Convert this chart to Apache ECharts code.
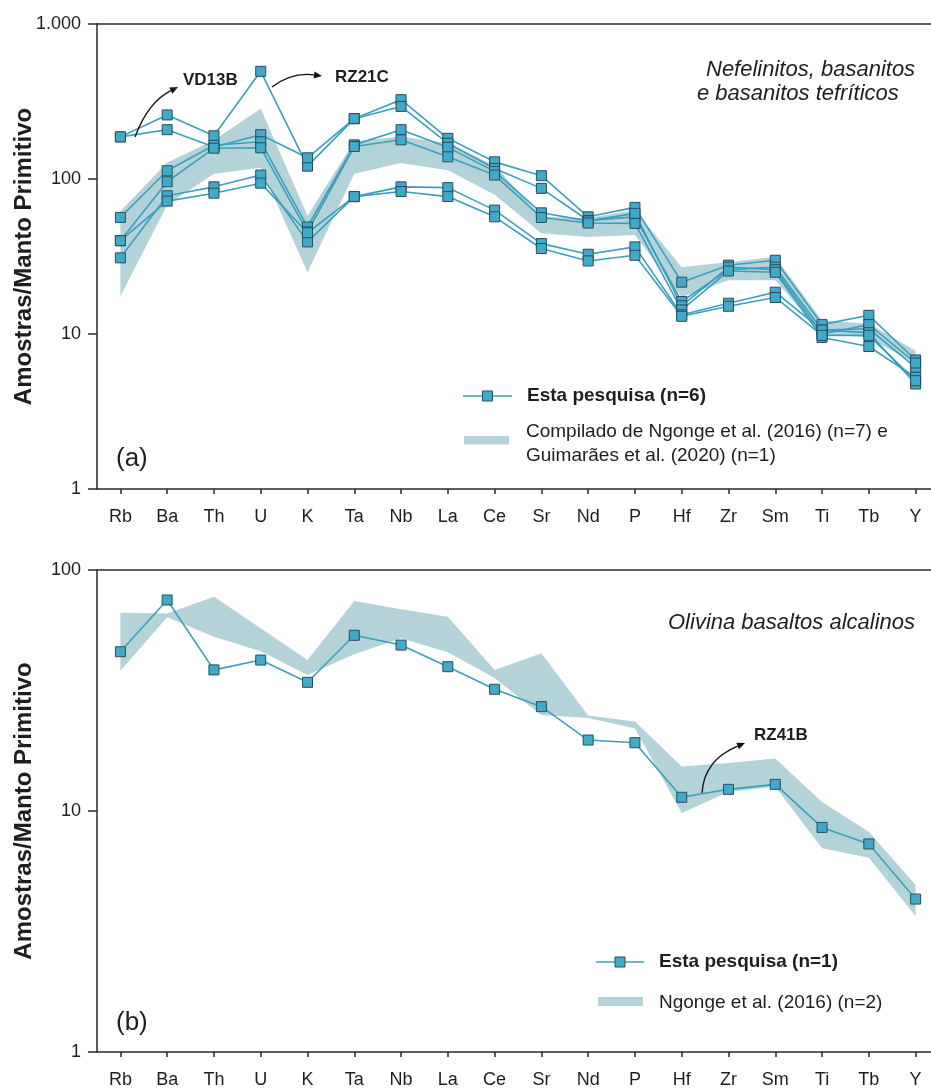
<!DOCTYPE html>
<html>
<head>
<meta charset="utf-8">
<script src="https://cdn.jsdelivr.net/npm/echarts@6/dist/echarts.min.js"></script>
<style>
  html, body { margin: 0; padding: 0; background: #ffffff; }
  #chart { width: 931px; height: 1088px; }
</style>
</head>
<body>
<div id="chart"></div>
<script>
// Elements on the x axis (primitive-mantle normalised spider diagram)
const elements = ['Rb','Ba','Th','U','K','Ta','Nb','La','Ce','Sr','Nd','P','Hf','Zr','Sm','Ti','Tb','Y'];

// (a) Nefelinitos, basanitos e basanitos tefríticos — samples of this study
const rz21c = [187, 259, 190, 495, 121, 245, 325, 183, 129, 105, 57, 65.6, 21.6, 27.8, 29.9, 11.5, 13.2, 6.8];
const vd13b = [187, 208, 161, 193, 137, 245, 294, 170, 117, 87, 54, 57, 16.2, 26, 27, 10.6, 10.8, 6.1];
const amostraA3 = [56.5, 113, 165, 174, 49, 166, 208, 160, 112, 60.5, 53.7, 60, 15.2, 27, 26, 10, 11.5, 6.5];
const amostraA4 = [40, 96, 158, 159, 45.6, 162, 179, 139, 106, 56.5, 52, 51.7, 14.3, 25.5, 25, 9.5, 8.3, 5.25];
const amostraA5 = [31, 78, 89, 106, 39.3, 77, 89, 88, 63, 38.3, 32.7, 36.5, 13.3, 15.8, 18.6, 10.6, 10.2, 4.76];
const amostraA6 = [40, 72, 81, 94, 45, 77, 83, 77, 57, 35.6, 29.6, 32.2, 13, 15.1, 17.2, 9.8, 9.8, 5.0];

// (a) compiled field: Ngonge et al. (2016) + Guimarães et al. (2020)
const campoA_max = [62, 128, 178, 285, 58, 175, 188, 170, 122, 57, 56, 63, 27, 29.1, 31.4, 12.2, 11.7, 7.8];
const campoA_min = [17.5, 68, 108, 118, 25, 108, 127, 114, 79, 44.7, 42.3, 43.5, 17.3, 22.2, 22.2, 10, 9.5, 6.4];

// (b) Olivina basaltos alcalinos — sample RZ41B
const rz41b = [45.8, 75.1, 38.5, 42.3, 34.2, 53.6, 48.8, 39.7, 32, 27.1, 19.7, 19.2, 11.4, 12.3, 12.9, 8.55, 7.3, 4.31];

// (b) field: Ngonge et al. (2016)
const campoB_max = [66.5, 66, 77.5, 57.3, 42.3, 74.3, 68.7, 64, 38.5, 45.1, 24.9, 23.5, 15.3, 15.8, 16.5, 10.9, 8.2, 4.93];
const campoB_min = [38.2, 63.6, 52.9, 46, 36.7, 44.7, 52.1, 45.6, 35.6, 25, 24.3, 22, 9.8, 12.0, 12.6, 7.0, 6.4, 3.67];

// y-axis tick labels
const tickLabelsA = { 1: '1', 10: '10', 100: '100', 1000: '1.000' };
const tickLabelsB = { 1: '1', 10: '10', 100: '100' };

const LINE = '#3a9fbc';
const MARK = '#41a9c9';
const MARK_BORDER = '#2c4c57';
const BAND = '#b4d3d8';
const AXIS = '#2a2a2a';
const TEXT = '#1e1e1e';
const FONT = '"Liberation Sans", Arial, sans-serif';

const chart = echarts.init(document.getElementById('chart'), null, { renderer: 'canvas' });

function catAxis(gridIndex) {
  return {
    type: 'category', gridIndex, data: elements, boundaryGap: true, position: 'bottom',
    axisLine: { show: true, lineStyle: { color: AXIS, width: 1.5 } },
    axisTick: { show: true, alignWithLabel: true, length: 5, lineStyle: { color: AXIS, width: 1.5 } },
    axisLabel: { color: TEXT, fontSize: 18, fontFamily: FONT, margin: 19, interval: 0 },
    splitLine: { show: false }
  };
}
function topAxis(gridIndex) {
  return {
    type: 'category', gridIndex, data: elements, position: 'top',
    axisLine: { show: true, lineStyle: { color: AXIS, width: 1.5 } },
    axisTick: { show: false }, axisLabel: { show: false }, splitLine: { show: false }
  };
}
function logAxis(gridIndex, max, labels) {
  return {
    type: 'log', logBase: 10, gridIndex, min: 1, max,
    name: 'Amostras/Manto Primitivo', nameLocation: 'middle', nameGap: 61, nameMoveOverlap: false,
    nameTextStyle: { color: TEXT, fontSize: 24, fontWeight: 'bold', fontFamily: FONT },
    axisLine: { show: true, lineStyle: { color: AXIS, width: 1.5 } },
    axisTick: { show: true, length: 9, lineStyle: { color: AXIS, width: 1.5 } },
    axisLabel: { color: TEXT, fontSize: 18, fontFamily: FONT, margin: 16,
      formatter: v => labels[Math.round(v)] ?? '' },
    splitLine: { show: false }, minorTick: { show: false }
  };
}

function sampleSeries(name, data, xi, yi) {
  return {
    type: 'line', name, data, xAxisIndex: xi, yAxisIndex: yi,
    symbol: 'rect', symbolSize: 10, z: 3,
    lineStyle: { color: LINE, width: 1.6 },
    itemStyle: { color: MARK, borderColor: MARK_BORDER, borderWidth: 1 },
    emphasis: { disabled: true }, animation: false
  };
}

function bandSeries(name, upper, lower, xi, yi, anchor) {
  return {
    type: 'custom', name, xAxisIndex: xi, yAxisIndex: yi, z: 1,
    data: [[0, anchor]], animation: false, silent: true,
    renderItem: (params, api) => {
      const top = upper.map((v, i) => api.coord([i, v]));
      const bot = lower.map((v, i) => api.coord([i, v])).reverse();
      return { type: 'polygon', shape: { points: top.concat(bot) }, style: { fill: BAND } };
    }
  };
}

// curved annotation arrow (quadratic bezier with a filled head)
function arrow(x1, y1, cx, cy, x2, y2) {
  const ang = Math.atan2(y2 - cy, x2 - cx);
  const L = 8, W = 3.5;
  const bx = x2 - L * Math.cos(ang), by = y2 - L * Math.sin(ang);
  const px = -Math.sin(ang), py = Math.cos(ang);
  return [
    { type: 'bezierCurve', shape: { x1, y1, x2: bx, y2: by, cpx1: cx, cpy1: cy },
      style: { stroke: '#111', lineWidth: 1.3, fill: null }, z: 10 },
    { type: 'polygon', shape: { points: [[x2, y2], [bx + W * px, by + W * py], [bx - W * px, by - W * py]] },
      style: { fill: '#111' }, z: 10 }
  ];
}

function txt(x, y, text, size, opts = {}) {
  return { type: 'text', x, y, z: 10, style: Object.assign({
    text, fill: TEXT, fontSize: size, fontFamily: FONT, verticalAlign: 'middle', align: 'left'
  }, opts) };
}

function legendLine(x1, x2, y) {
  const cx = (x1 + x2) / 2;
  return [
    { type: 'line', shape: { x1, y1: y, x2, y2: y }, style: { stroke: LINE, lineWidth: 1.6 }, z: 10 },
    { type: 'rect', shape: { x: cx - 5, y: y - 5, width: 10, height: 10 },
      style: { fill: MARK, stroke: MARK_BORDER, lineWidth: 1 }, z: 11 }
  ];
}

const graphics = [].concat(
  // (a) annotations
  txt(183, 80, 'VD13B', 17, { fontWeight: 'bold' }),
  arrow(135, 137, 148, 102, 178, 87),
  txt(335, 77, 'RZ21C', 17, { fontWeight: 'bold' }),
  arrow(272, 87, 292, 72, 322, 76),
  txt(706, 70, 'Nefelinitos, basanitos', 22, { fontStyle: 'italic' }),
  txt(697, 94, 'e basanitos tefríticos', 22, { fontStyle: 'italic' }),
  txt(116, 459, '(a)', 26),
  // (a) legend
  legendLine(463, 512, 396),
  txt(527, 396, 'Esta pesquisa (n=6)', 19, { fontWeight: 'bold' }),
  { type: 'rect', shape: { x: 464, y: 436, width: 45, height: 8.5 }, style: { fill: BAND }, z: 10 },
  txt(526, 432, 'Compilado de Ngonge et al. (2016) (n=7) e', 19),
  txt(526, 456, 'Guimarães et al. (2020) (n=1)', 19),
  // (b) annotations
  txt(754, 735, 'RZ41B', 17, { fontWeight: 'bold' }),
  arrow(702, 793, 704, 760, 745, 743),
  txt(668, 623, 'Olivina basaltos alcalinos', 22, { fontStyle: 'italic' }),
  txt(116, 1023, '(b)', 26),
  // (b) legend
  legendLine(596, 644, 962),
  txt(659, 962, 'Esta pesquisa (n=1)', 19, { fontWeight: 'bold' }),
  { type: 'rect', shape: { x: 598, y: 997, width: 45, height: 9 }, style: { fill: BAND }, z: 10 },
  txt(659, 1003, 'Ngonge et al. (2016) (n=2)', 19)
);

const option = {
  backgroundColor: '#ffffff',
  animation: false,
  grid: [
    { left: 97, top: 24, width: 842, height: 465, outerBoundsMode: 'none', containLabel: false },
    { left: 97, top: 570, width: 842, height: 482, outerBoundsMode: 'none', containLabel: false }
  ],
  xAxis: [catAxis(0), topAxis(0), catAxis(1), topAxis(1)],
  yAxis: [logAxis(0, 1000, tickLabelsA), logAxis(1, 100, tickLabelsB)],
  series: [
    bandSeries('Compilado de Ngonge et al. (2016) (n=7) e Guimarães et al. (2020) (n=1)', campoA_max, campoA_min, 0, 0, 10),
    sampleSeries('RZ21C', rz21c, 0, 0),
    sampleSeries('VD13B', vd13b, 0, 0),
    sampleSeries('Amostra 3', amostraA3, 0, 0),
    sampleSeries('Amostra 4', amostraA4, 0, 0),
    sampleSeries('Amostra 5', amostraA5, 0, 0),
    sampleSeries('Amostra 6', amostraA6, 0, 0),
    bandSeries('Ngonge et al. (2016) (n=2)', campoB_max, campoB_min, 2, 1, 10),
    sampleSeries('RZ41B', rz41b, 2, 1)
  ],
  graphic: graphics
};

chart.setOption(option);
</script>
</body>
</html>
